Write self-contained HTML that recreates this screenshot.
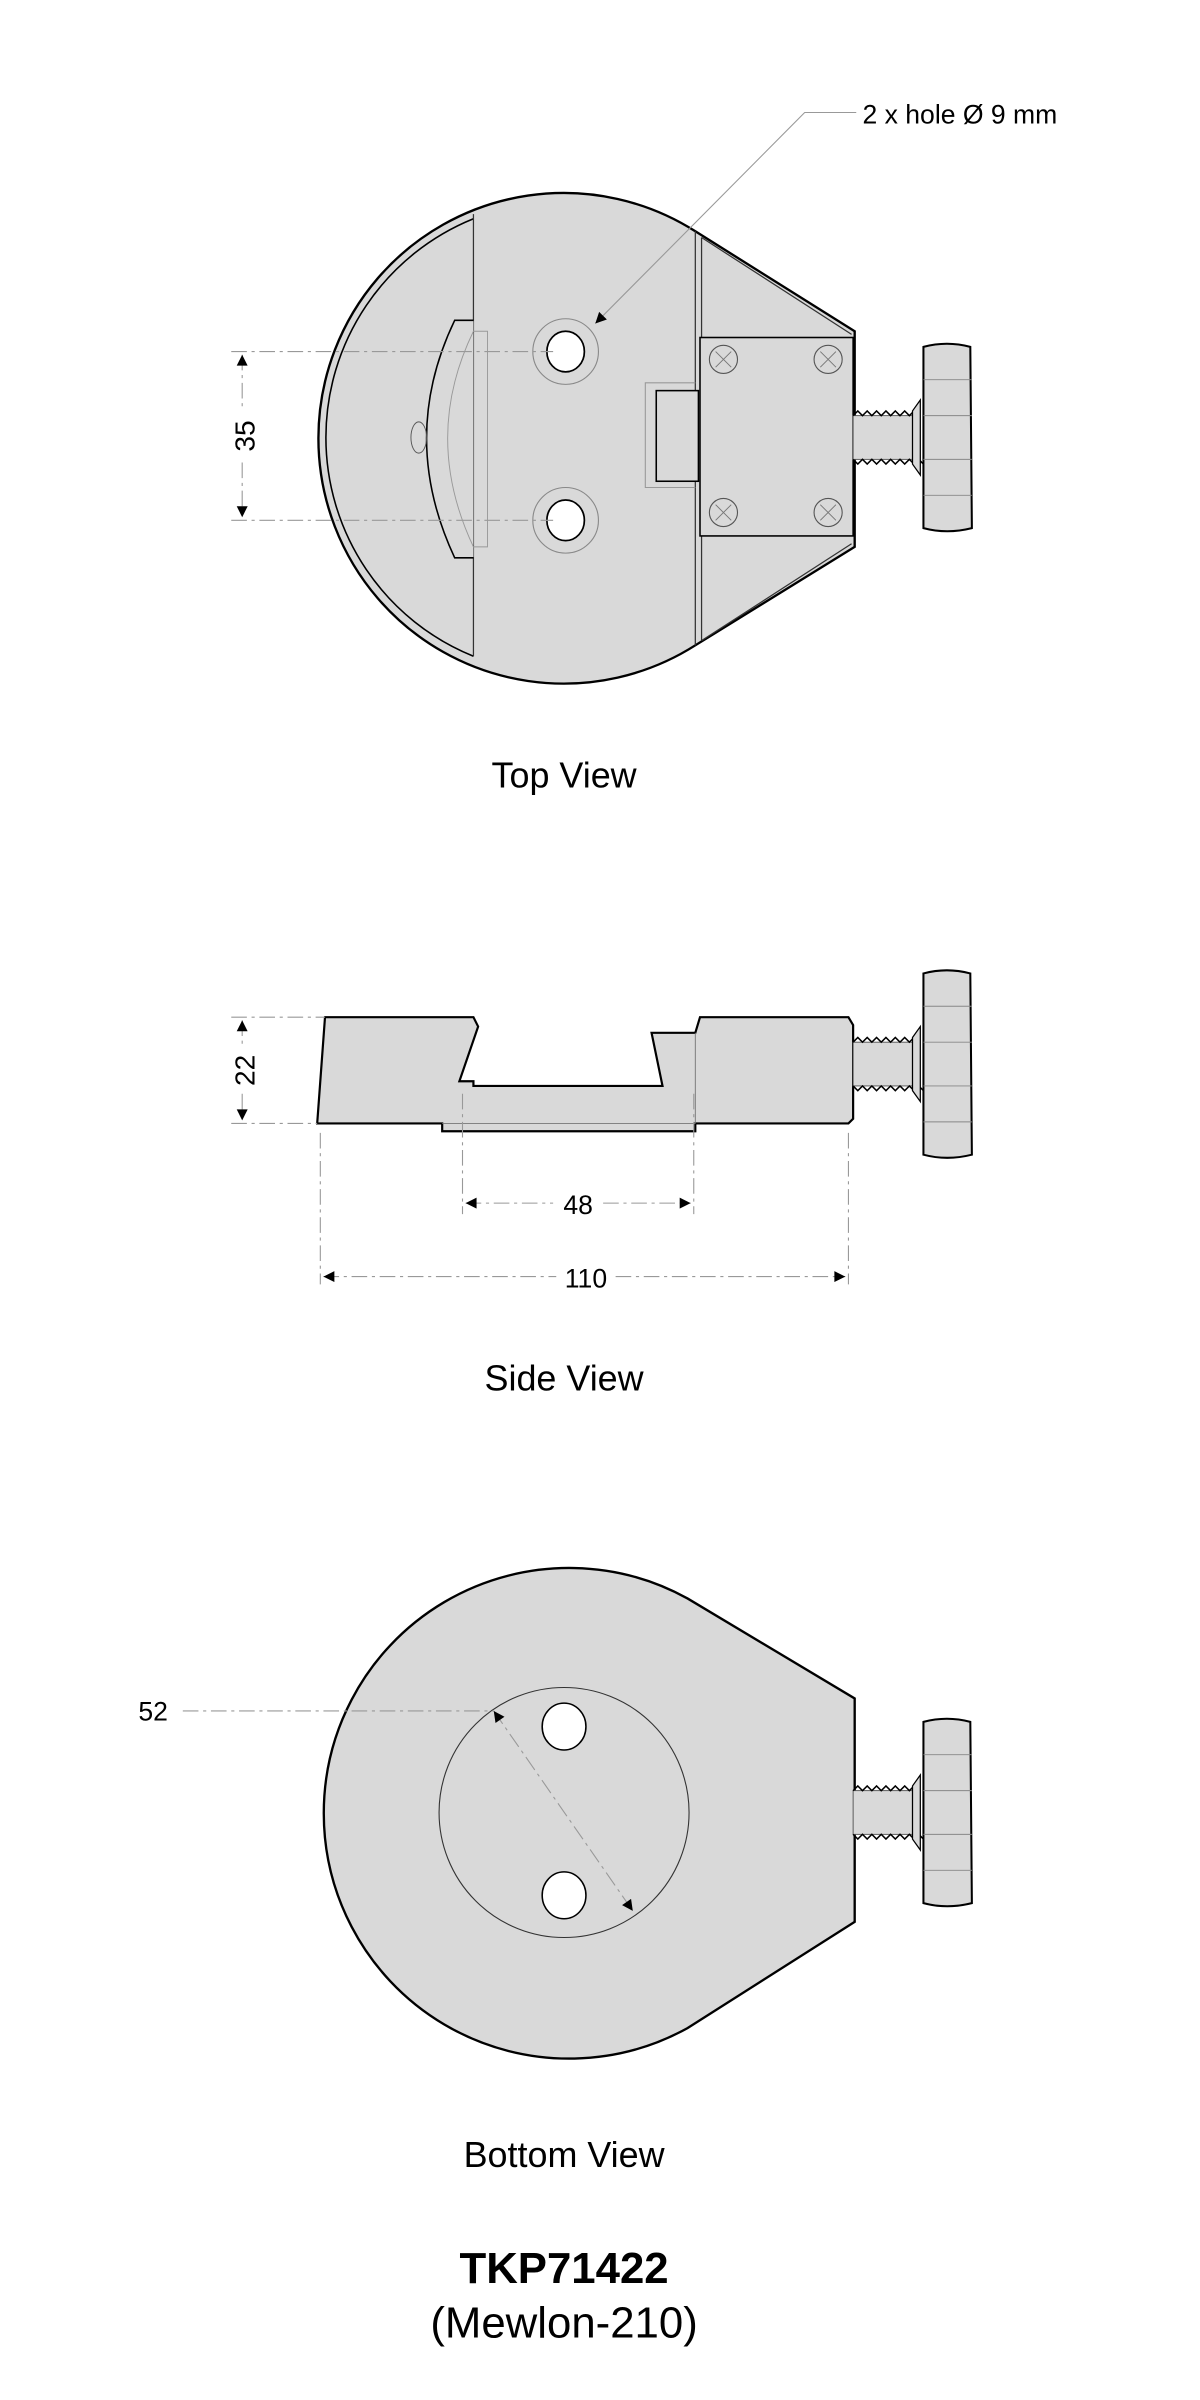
<!DOCTYPE html>
<html><head><meta charset="utf-8"><style>
html,body{margin:0;padding:0;background:#fff;}
svg{display:block;}
text{font-family:"Liberation Sans",sans-serif;fill:#000;}
</style></head><body>
<svg width="1200" height="2400" viewBox="0 0 768 1536" xmlns="http://www.w3.org/2000/svg">
<defs>
<marker id="ar" viewBox="0 0 10 10" refX="10" refY="5" markerWidth="10" markerHeight="7" orient="auto-start-reverse" markerUnits="userSpaceOnUse"><path d="M0,0 L10,5 L0,10 z" fill="#000"/></marker>
<g id="knob">
  <rect x="546" y="266" width="40" height="28" fill="#d9d9d9" stroke="#555" stroke-width="0.6"/>
  <path d="M546,266 l3,-3 l3,3 l3,-3 l3,3 l3,-3 l3,3 l3,-3 l3,3 l3,-3 l3,3 l3,-3 l3,3 l3,-3 l3,3 M546,294 l3,3 l3,-3 l3,3 l3,-3 l3,3 l3,-3 l3,3 l3,-3 l3,3 l3,-3 l3,3 l3,-3 l3,3 l3,-3 l3,3" fill="none" stroke="#000" stroke-width="1"/>
  <path d="M584,263 L589,256 L589,304 L584,297 Z" fill="#d9d9d9" stroke="#000" stroke-width="0.8"/>
  <path d="M591,222 Q606,218 621,222 L622,338 Q606,342 591,338 Z" fill="#d9d9d9" stroke="#000" stroke-width="1.3"/>
  <path d="M591,243 H622 M591,266 H622 M591,294 H622 M591,317 H622" stroke="#888" stroke-width="0.6"/>
</g>
</defs>

<!-- TOP VIEW -->
<path d="M445,148 L547,212 L547,350 L445,413 A157,157 0 1 1 445,148 Z" fill="#d9d9d9" stroke="#000" stroke-width="1.5"/>
<path d="M303,140 A151,151 0 0 0 303,420" fill="none" stroke="#000" stroke-width="1"/>
<path d="M303,137 V420 M445,148 V413 M449,152 V410" fill="none" stroke="#333" stroke-width="0.8"/>
<path d="M449,152 L545,214 M449,410 L545,348" stroke="#333" stroke-width="0.8"/>
<path d="M303,205 H291 Q255,280 291,357 H303" fill="#d9d9d9" stroke="#000" stroke-width="1"/>
<path d="M303,212 Q270,280 303,350 H312 V212 Z" fill="none" stroke="#999" stroke-width="0.6"/>
<ellipse cx="268" cy="280" rx="5" ry="10" fill="none" stroke="#555" stroke-width="0.6"/>
<rect x="448" y="216" width="98" height="127" fill="#d9d9d9" stroke="#000" stroke-width="1"/>
<g fill="none" stroke="#555" stroke-width="0.7">
<circle cx="463" cy="230" r="9"/><circle cx="530" cy="230" r="9"/><circle cx="463" cy="328" r="9"/><circle cx="530" cy="328" r="9"/>
</g>
<g fill="none" stroke="#777" stroke-width="0.6">
<path d="M458,225 L468,235 M468,225 L458,235 M525,225 L535,235 M535,225 L525,235 M458,323 L468,333 M468,323 L458,333 M525,323 L535,333 M535,323 L525,333"/>
</g>
<path d="M445,245 H413 V312 H445" fill="none" stroke="#999" stroke-width="0.7"/>
<rect x="420" y="250" width="27" height="58" fill="#d9d9d9" stroke="#000" stroke-width="1"/>
<circle cx="362" cy="225" r="21" fill="none" stroke="#888" stroke-width="0.7"/>
<circle cx="362" cy="333" r="21" fill="none" stroke="#888" stroke-width="0.7"/>
<ellipse cx="362" cy="225" rx="12" ry="13" fill="#fff" stroke="#000" stroke-width="1.1"/>
<ellipse cx="362" cy="333" rx="12" ry="13" fill="#fff" stroke="#000" stroke-width="1.1"/>
<text x="552" y="79" font-size="17">2 x hole Ø 9 mm</text>
<path d="M548,72 H515 L381,207" fill="none" stroke="#999" stroke-width="0.7" marker-end="url(#ar)"/>
<path d="M148,225 H354 M148,333 H354" stroke="#999" stroke-width="0.7" stroke-dasharray="10,3,2,3"/>
<path d="M155,227 V262 M155,296 V331" stroke="#999" stroke-width="0.7" stroke-dasharray="10,3,2,3" marker-start="url(#ar)" marker-end="url(#ar)"/>
<text x="163" y="279" font-size="18" text-anchor="middle" transform="rotate(-90 163 279)">35</text>
<use href="#knob"/>
<text x="361" y="504" font-size="23" text-anchor="middle">Top View</text>

<!-- SIDE VIEW -->
<path d="M208,651 H303 L306,657 L294,692 H303 V695 H424 L417,661 H445 L448,651 H543 L546,656 V716 L543,719 H445 V724 H283 V719 H203 Z" fill="#d9d9d9" stroke="#000" stroke-width="1.4"/>
<path d="M445,661 V719 M283,719 H445" stroke="#777" stroke-width="0.6"/>
<path d="M148,651 H208 M148,719 H203" stroke="#999" stroke-width="0.7" stroke-dasharray="10,3,2,3"/>
<path d="M155,653 V670 M155,700 V717" stroke="#999" stroke-width="0.7" stroke-dasharray="10,3,2,3" marker-start="url(#ar)" marker-end="url(#ar)"/>
<text x="163" y="685" font-size="18" text-anchor="middle" transform="rotate(-90 163 685)">22</text>
<path d="M205,725 V822 M296,700 V777 M444,700 V777 M543,725 V822" stroke="#999" stroke-width="0.7" stroke-dasharray="10,3,2,3"/>
<path d="M298,770 H354 M386,770 H442" stroke="#999" stroke-width="0.7" stroke-dasharray="10,3,2,3" marker-start="url(#ar)" marker-end="url(#ar)"/>
<text x="370" y="777" font-size="17" text-anchor="middle">48</text>
<path d="M207,817 H356 M394,817 H541" stroke="#999" stroke-width="0.7" stroke-dasharray="10,3,2,3" marker-start="url(#ar)" marker-end="url(#ar)"/>
<text x="375" y="824" font-size="17" text-anchor="middle">110</text>
<use href="#knob" transform="translate(0,401)"/>
<text x="361" y="890" font-size="23" text-anchor="middle">Side View</text>

<!-- BOTTOM VIEW -->
<path d="M440,1023 L547,1087 L547,1230 L440,1298 A157,157 0 1 1 440,1023 Z" fill="#d9d9d9" stroke="#000" stroke-width="1.5"/>
<circle cx="361" cy="1160" r="80" fill="none" stroke="#333" stroke-width="0.7"/>
<ellipse cx="361" cy="1105" rx="14" ry="15" fill="#fff" stroke="#000" stroke-width="1"/>
<ellipse cx="361" cy="1213" rx="14" ry="15" fill="#fff" stroke="#000" stroke-width="1"/>
<path d="M117,1095 H316" stroke="#999" stroke-width="0.7" stroke-dasharray="10,3,2,3"/>
<path d="M316,1095 L405,1223" stroke="#999" stroke-width="0.7" stroke-dasharray="10,3,2,3" marker-start="url(#ar)" marker-end="url(#ar)"/>
<text x="98" y="1101" font-size="17" text-anchor="middle">52</text>
<use href="#knob" transform="translate(0,880)"/>
<text x="361" y="1387" font-size="23" text-anchor="middle">Bottom View</text>

<text x="361" y="1461" font-size="28" font-weight="bold" text-anchor="middle">TKP71422</text>
<text x="361" y="1496" font-size="28" text-anchor="middle">(Mewlon-210)</text>
</svg>
</body></html>
